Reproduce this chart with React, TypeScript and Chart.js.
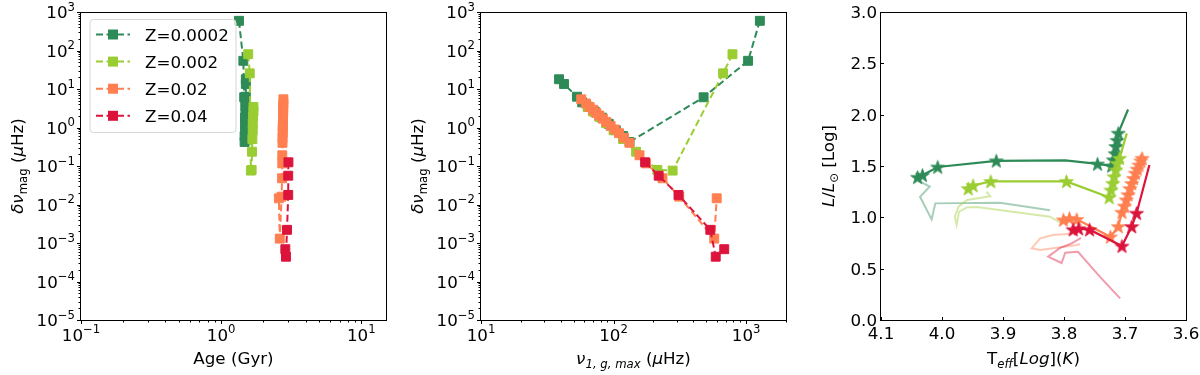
import { useEffect, useRef } from 'react';
import { Chart, registerables } from 'chart.js';

Chart.register(...registerables);

const FONT = "'DejaVu Sans', 'Noto Sans', sans-serif";
const FS = 16.7;

const seriesLabels = ['Z=0.0002', 'Z=0.002', 'Z=0.02', 'Z=0.04'];
const seriesColors = ['#2e8b57', '#9acd32', '#ff7f50', '#dc143c'];
const fadedColors = ['rgba(46,139,87,0.42)', 'rgba(154,205,50,0.42)', 'rgba(255,127,80,0.42)', 'rgba(220,20,60,0.42)'];

// ---- Panels 1 & 2 : models (age [Gyr], nu_1,g,max [muHz], delta nu_mag [muHz]) ----
// Z=0.0002
const age_Z0002 = [1.34, 1.44, 1.46, 1.47, 1.47, 1.48, 1.48, 1.48, 1.49, 1.49, 1.49, 1.5, 1.5, 1.5];
const nu_Z0002 = [1270, 1035, 478, 132, 118, 104, 92, 82, 72, 64, 58, 53, 42.3, 38.8];
const dnu_Z0002 = [590, 54, 6.1, 0.42, 0.6, 0.85, 1.25, 1.8, 2.6, 3.5, 4.5, 6.3, 13.5, 17.9];
// Z=0.002
const age_Z002 = [1.56, 1.6, 1.63, 1.65, 1.66, 1.67, 1.68, 1.68, 1.69, 1.7, 1.7];
const nu_Z002 = [789, 671, 279, 214, 148, 118, 100, 88, 78, 70, 64];
const dnu_Z002 = [80, 25.5, 0.076, 0.079, 0.235, 0.5, 0.85, 1.3, 1.9, 2.6, 3.4];
// Z=0.02
const age_Z02 = [2.78, 2.78, 2.77, 2.77, 2.77, 2.76, 2.76, 2.76, 2.75, 2.75, 2.75, 2.74, 2.74, 2.73, 2.73, 2.72, 2.7, 2.62, 2.58];
const nu_Z02 = [57, 62, 66, 70, 74, 78, 83, 88, 95, 102, 110, 120, 132, 157, 176, 234, 313, 575, 600];
const dnu_Z02 = [5.4, 4.2, 3.4, 2.9, 2.4, 2.05, 1.7, 1.4, 1.1, 0.89, 0.71, 0.54, 0.4, 0.19, 0.117, 0.048, 0.016, 0.0013, 0.0145];
// Z=0.04
const age_Z04 = [3.02, 3.01, 3.01, 2.95, 2.9, 2.87];
const nu_Z04 = [173, 219, 309, 537, 590, 684];
const dnu_Z04 = [0.125, 0.056, 0.0177, 0.0022, 0.00044, 0.00069];

// ---- Panel 3 : HR diagram (log Teff, log L/Lsun) ----
const trackT_Z0002 = [4.04, 4.032, 4.007, 3.911, 3.798, 3.745, 3.722, 3.719, 3.716, 3.715, 3.713, 3.711, 3.695];
const trackL_Z0002 = [1.39, 1.41, 1.49, 1.55, 1.555, 1.52, 1.5, 1.56, 1.62, 1.69, 1.75, 1.82, 2.05];
const starT_Z0002 = [4.04, 4.032, 4.007, 3.911, 3.745, 3.722, 3.719, 3.716, 3.715, 3.713, 3.711];
const starL_Z0002 = [1.39, 1.41, 1.49, 1.55, 1.52, 1.5, 1.56, 1.62, 1.69, 1.75, 1.82];
const fadeT_Z0002 = [4.036, 4.02, 4.036, 4.017, 4.011, 3.905, 3.823];
const fadeL_Z0002 = [1.347, 1.3, 1.2, 0.98, 1.136, 1.143, 1.07];

const trackT_Z002 = [3.957, 3.949, 3.92, 3.796, 3.726, 3.723, 3.72, 3.718, 3.715, 3.713, 3.709, 3.697];
const trackL_Z002 = [1.28, 1.31, 1.35, 1.35, 1.195, 1.266, 1.331, 1.396, 1.461, 1.526, 1.575, 1.818];
const starT_Z002 = [3.957, 3.949, 3.92, 3.796, 3.726, 3.723, 3.72, 3.718, 3.715, 3.713, 3.709];
const starL_Z002 = [1.28, 1.31, 1.35, 1.35, 1.195, 1.266, 1.331, 1.396, 1.461, 1.526, 1.575];
const fadeT_Z002 = [3.927, 3.921, 3.959, 3.973, 3.979, 3.976, 3.972, 3.959, 3.943, 3.823, 3.805];
const fadeL_Z002 = [1.25, 1.205, 1.169, 1.104, 1.006, 0.925, 1.055, 1.097, 1.1, 1.006, 0.945];

const trackT_Z02 = [3.801, 3.791, 3.779, 3.724, 3.711, 3.705, 3.701, 3.698, 3.695, 3.692, 3.689, 3.686, 3.683, 3.68, 3.677, 3.674, 3.672];
const trackL_Z02 = [0.975, 0.99, 0.98, 0.81, 0.91, 1.05, 1.11, 1.17, 1.22, 1.28, 1.33, 1.38, 1.43, 1.47, 1.51, 1.55, 1.575];
const starT_Z02 = trackT_Z02;
const starL_Z02 = trackL_Z02;
const fadeT_Z02 = [3.777, 3.818, 3.839, 3.853, 3.839, 3.779, 3.774];
const fadeL_Z02 = [0.845, 0.828, 0.796, 0.698, 0.682, 0.73, 0.74];

const trackT_Z04 = [3.785, 3.776, 3.758, 3.705, 3.689, 3.681, 3.66];
const trackL_Z04 = [0.88, 0.89, 0.88, 0.72, 0.91, 1.04, 1.51];
const starT_Z04 = [3.785, 3.776, 3.758, 3.705, 3.689, 3.681];
const starL_Z04 = [0.88, 0.89, 0.88, 0.72, 0.91, 1.04];
const fadeT_Z04 = [3.772, 3.788, 3.807, 3.826, 3.804, 3.798, 3.777, 3.741, 3.708];
const fadeL_Z04 = [0.8, 0.745, 0.7, 0.617, 0.555, 0.655, 0.665, 0.42, 0.21];

const models = [
  { age: age_Z0002, nu: nu_Z0002, dnu: dnu_Z0002 },
  { age: age_Z002, nu: nu_Z002, dnu: dnu_Z002 },
  { age: age_Z02, nu: nu_Z02, dnu: dnu_Z02 },
  { age: age_Z04, nu: nu_Z04, dnu: dnu_Z04 },
];
const tracks = [
  { tT: trackT_Z0002, tL: trackL_Z0002, sT: starT_Z0002, sL: starL_Z0002, fT: fadeT_Z0002, fL: fadeL_Z0002 },
  { tT: trackT_Z002, tL: trackL_Z002, sT: starT_Z002, sL: starL_Z002, fT: fadeT_Z002, fL: fadeL_Z002 },
  { tT: trackT_Z02, tL: trackL_Z02, sT: starT_Z02, sL: starL_Z02, fT: fadeT_Z02, fL: fadeL_Z02 },
  { tT: trackT_Z04, tL: trackL_Z04, sT: starT_Z04, sL: starL_Z04, fT: fadeT_Z04, fL: fadeL_Z04 },
];

// ---------- text helpers ----------
type Seg = { t: string; it?: boolean; sc?: number; dy?: number };

function segFont(s: Seg, size: number) {
  return `${s.it ? 'italic ' : ''}${(size * (s.sc ?? 1)).toFixed(2)}px ${FONT}`;
}

function drawRich(ctx: CanvasRenderingContext2D, segs: Seg[], x: number, y: number, size: number, align: string, rotate = false) {
  ctx.save();
  ctx.translate(x, y);
  if (rotate) ctx.rotate(-Math.PI / 2);
  const ws = segs.map((s) => {
    ctx.font = segFont(s, size);
    return ctx.measureText(s.t).width;
  });
  const total = ws.reduce((a, b) => a + b, 0);
  let cx = align === 'center' ? -total / 2 : align === 'right' ? -total : 0;
  ctx.textAlign = 'left';
  ctx.textBaseline = 'alphabetic';
  ctx.fillStyle = '#000';
  segs.forEach((s, i) => {
    ctx.font = segFont(s, size);
    ctx.fillText(s.t, cx, (s.dy ?? 0) * size);
    cx += ws[i];
  });
  ctx.restore();
}

function powLabel(v: number): Seg[] {
  const e = Math.round(Math.log10(v));
  return [{ t: '10' }, { t: e < 0 ? '\u2212' + Math.abs(e) : String(e), sc: 0.7, dy: -0.45 }];
}

function logTicks(min: number, max: number) {
  const out: { value: number; major: boolean }[] = [];
  for (let e = Math.floor(Math.log10(min)); e <= Math.ceil(Math.log10(max)); e++) {
    for (let k = 1; k <= 9; k++) {
      const v = k * Math.pow(10, e);
      if (v >= min * 0.999 && v <= max * 1.001) out.push({ value: v, major: k === 1 });
    }
  }
  return out;
}

function makeStar(color: string, r: number) {
  const c = document.createElement('canvas');
  const s = Math.ceil(r * 2 + 2);
  c.width = s;
  c.height = s;
  const g = c.getContext('2d')!;
  g.beginPath();
  for (let i = 0; i < 10; i++) {
    const rad = i % 2 === 0 ? r : r * 0.4;
    const a = -Math.PI / 2 + (i * Math.PI) / 5;
    const px = s / 2 + rad * Math.cos(a);
    const py = s / 2 + 0.6 + rad * Math.sin(a);
    if (i === 0) g.moveTo(px, py);
    else g.lineTo(px, py);
  }
  g.closePath();
  g.fillStyle = color;
  g.fill();
  g.lineWidth = 0.8;
  g.strokeStyle = color;
  g.stroke();
  return c;
}

type PanelCfg = {
  log: boolean;
  tickDir: number; // 1 = out, -1 = in
  xTitle: Seg[];
  yTitle: Seg[];
  yTitleX: number;
  yLabPad: number;
  xLabBase: number;
  legend?: boolean;
};

function mplPlugin(cfg: PanelCfg) {
  return {
    id: 'mplAxes',
    afterDraw(chart: any) {
      const ctx: CanvasRenderingContext2D = chart.ctx;
      const a = chart.chartArea;
      const xs = chart.scales.x;
      const ys = chart.scales.y;
      ctx.save();
      ctx.setLineDash([]);
      ctx.strokeStyle = '#000';
      ctx.lineWidth = 1;
      const L = Math.floor(a.left) - 0.5;
      const R = Math.floor(a.right) + 0.5;
      const T = Math.floor(a.top) + 0.5;
      const B = Math.floor(a.bottom) + 0.5;
      ctx.strokeRect(L, T, R - L, B - T);
      ctx.beginPath();
      xs.ticks.forEach((t: any) => {
        const p = Math.round(xs.getPixelForValue(t.value)) + 0.5;
        if (p < L - 0.5 || p > R + 0.5) return;
        const len = cfg.log && !t.major ? 2 : 3.5;
        ctx.moveTo(p, B);
        ctx.lineTo(p, B + cfg.tickDir * len);
      });
      ys.ticks.forEach((t: any) => {
        const p = Math.round(ys.getPixelForValue(t.value)) + 0.5;
        if (p < T - 0.5 || p > B + 0.5) return;
        const len = cfg.log && !t.major ? 2 : 3.5;
        ctx.moveTo(L, p);
        ctx.lineTo(L - cfg.tickDir * len, p);
      });
      ctx.stroke();

      // tick labels
      xs.ticks.forEach((t: any) => {
        if (cfg.log && !t.major) return;
        const p = xs.getPixelForValue(t.value);
        const segs = cfg.log ? powLabel(t.value) : [{ t: t.value.toFixed(1) }];
        drawRich(ctx, segs, p, a.bottom + cfg.xLabBase, FS, 'center');
      });
      ys.ticks.forEach((t: any) => {
        if (cfg.log && !t.major) return;
        const p = ys.getPixelForValue(t.value);
        const segs = cfg.log ? powLabel(t.value) : [{ t: Math.abs(t.value) < 1e-9 ? '0.0' : t.value.toFixed(1) }];
        drawRich(ctx, segs, a.left - cfg.yLabPad, p + 0.365 * FS, FS, 'right');
      });

      // axis titles
      drawRich(ctx, cfg.xTitle, (a.left + a.right) / 2, 364, FS, 'center');
      drawRich(ctx, cfg.yTitle, cfg.yTitleX, (a.top + a.bottom) / 2, FS, 'center', true);

      // legend
      if (cfg.legend) {
        const bx = 90, by = 19.5, bw = 146, bh = 113, rr = 3.5;
        ctx.beginPath();
        ctx.moveTo(bx + rr, by);
        ctx.arcTo(bx + bw, by, bx + bw, by + bh, rr);
        ctx.arcTo(bx + bw, by + bh, bx, by + bh, rr);
        ctx.arcTo(bx, by + bh, bx, by, rr);
        ctx.arcTo(bx, by, bx + bw, by, rr);
        ctx.closePath();
        ctx.fillStyle = 'rgba(255,255,255,0.8)';
        ctx.fill();
        ctx.strokeStyle = '#d6d6d6';
        ctx.lineWidth = 1;
        ctx.stroke();
        seriesLabels.forEach((lab, i) => {
          const yy = 34.5 + i * 27.1;
          ctx.strokeStyle = seriesColors[i];
          ctx.lineWidth = 2;
          ctx.setLineDash([7, 3.5]);
          ctx.beginPath();
          ctx.moveTo(96, yy);
          ctx.lineTo(130, yy);
          ctx.stroke();
          ctx.setLineDash([]);
          ctx.fillStyle = seriesColors[i];
          ctx.fillRect(113 - 5, yy - 5, 10, 10);
          drawRich(ctx, [{ t: lab }], 145, yy + 0.365 * FS, FS, 'left');
        });
      }
      ctx.restore();
    },
  };
}

function hiddenScale(extra: any, fit: (s: any) => void) {
  return {
    ...extra,
    grid: { display: false, drawTicks: false },
    border: { display: false },
    ticks: { display: false },
    afterFit: fit,
  };
}

const baseOptions = (scales: any) => ({
  animation: false,
  responsive: false,
  devicePixelRatio: 1,
  events: [],
  layout: { padding: { left: 0, right: 14, top: 12, bottom: 0 } },
  plugins: { legend: { display: false }, tooltip: { enabled: false } },
  scales,
});

const titleDnu: Seg[] = [
  { t: '\u03b4\u03bd', it: true },
  { t: 'mag', sc: 0.7, dy: 0.22 },
  { t: ' (' },
  { t: '\u03bc', it: true },
  { t: 'Hz)' },
];

function modelConfig(xKey: 'age' | 'nu', xMin: number, xMax: number, xTitle: Seg[], legend: boolean) {
  const datasets = models.map((m, i) => ({
    data: m[xKey].map((xv, j) => ({ x: xv, y: m.dnu[j] })),
    borderColor: seriesColors[i],
    backgroundColor: seriesColors[i],
    borderWidth: 2,
    borderDash: [7, 3.5],
    showLine: true,
    tension: 0,
    pointStyle: 'rect',
    pointRadius: 6.3,
    pointBorderWidth: 1,
    pointBorderColor: seriesColors[i],
    order: -i,
  }));
  const cfg: PanelCfg = { log: true, tickDir: 1, xTitle, yTitle: titleDnu, yTitleX: 23, yLabPad: 6, xLabBase: 21, legend };
  return {
    type: 'scatter' as const,
    data: { datasets },
    options: baseOptions({
      x: hiddenScale(
        { type: 'logarithmic', min: xMin, max: xMax, afterBuildTicks: (ax: any) => { ax.ticks = logTicks(xMin, xMax); } },
        (s: any) => { s.height = 55; }
      ),
      y: hiddenScale(
        { type: 'logarithmic', min: 1e-5, max: 1e3, afterBuildTicks: (ax: any) => { ax.ticks = logTicks(1e-5, 1e3); } },
        (s: any) => { s.width = 81; }
      ),
    }),
    plugins: [mplPlugin(cfg)],
  };
}

function hrConfig() {
  const stars = seriesColors.map((c) => makeStar(c, 7.3));
  const datasets: any[] = [];
  tracks.forEach((tr, i) => {
    datasets.push({
      data: tr.fT.map((t, j) => ({ x: t, y: tr.fL[j] })),
      borderColor: fadedColors[i],
      borderWidth: 2,
      showLine: true,
      tension: 0,
      pointRadius: 0,
    });
  });
  tracks.forEach((tr, i) => {
    datasets.push({
      data: tr.tT.map((t, j) => ({ x: t, y: tr.tL[j] })),
      borderColor: seriesColors[i],
      borderWidth: 2.2,
      showLine: true,
      tension: 0,
      pointRadius: 0,
    });
    datasets.push({
      data: tr.sT.map((t, j) => ({ x: t, y: tr.sL[j] })),
      showLine: false,
      pointStyle: stars[i],
      pointRadius: 7,
      backgroundColor: seriesColors[i],
      borderColor: seriesColors[i],
    });
  });
  datasets.forEach((d, k) => { d.order = -k; });
  const cfg: PanelCfg = {
    log: false,
    tickDir: -1,
    xTitle: [
      { t: 'T' },
      { t: 'eff', it: true, sc: 0.7, dy: 0.22 },
      { t: '[' },
      { t: 'Log', it: true },
      { t: '](' },
      { t: 'K', it: true },
      { t: ')' },
    ],
    yTitle: [
      { t: 'L', it: true },
      { t: '/' },
      { t: 'L', it: true },
      { t: '\u2299', sc: 0.7, dy: 0.22 },
      { t: ' [Log]' },
    ],
    yTitleX: 34,
    yLabPad: 4,
    xLabBase: 19.3,
  };
  return {
    type: 'scatter' as const,
    data: { datasets },
    options: baseOptions({
      x: hiddenScale({ type: 'linear', min: 3.6, max: 4.1, reverse: true, ticks: { stepSize: 0.1 } }, (s: any) => { s.height = 55; }),
      y: hiddenScale({ type: 'linear', min: 0, max: 3, ticks: { stepSize: 0.5 } }, (s: any) => { s.width = 81; }),
    }),
    plugins: [mplPlugin(cfg)],
  };
}

export default function App() {
  const r1 = useRef<HTMLCanvasElement>(null);
  const r2 = useRef<HTMLCanvasElement>(null);
  const r3 = useRef<HTMLCanvasElement>(null);

  useEffect(() => {
    const c1 = modelConfig('age', 0.1, 15, [{ t: 'Age (Gyr)' }], true);
    const c2 = modelConfig('nu', 10, 2000, [
      { t: '\u03bd', it: true },
      { t: '1, g, max', it: true, sc: 0.7, dy: 0.22 },
      { t: ' (' },
      { t: '\u03bc', it: true },
      { t: 'Hz)' },
    ], false);
    const c3 = hrConfig();
    // stepSize must live inside ticks even though labels are custom-drawn
    (c3.options.scales.x as any).ticks = { display: false, stepSize: 0.1 };
    (c3.options.scales.y as any).ticks = { display: false, stepSize: 0.5 };
    const charts = [
      new Chart(r1.current!, c1 as any),
      new Chart(r2.current!, c2 as any),
      new Chart(r3.current!, c3 as any),
    ];
    return () => charts.forEach((c) => c.destroy());
  }, []);

  const cs: any = { position: 'absolute', top: 0, width: 400, height: 375 };
  return (
    <div style={{ position: 'absolute', left: 0, top: 0, width: 1200, height: 375, background: '#fff', overflow: 'hidden' }}>
      <canvas ref={r1} width={400} height={375} style={{ ...cs, left: 0 }} />
      <canvas ref={r2} width={400} height={375} style={{ ...cs, left: 400 }} />
      <canvas ref={r3} width={400} height={375} style={{ ...cs, left: 800 }} />
    </div>
  );
}
